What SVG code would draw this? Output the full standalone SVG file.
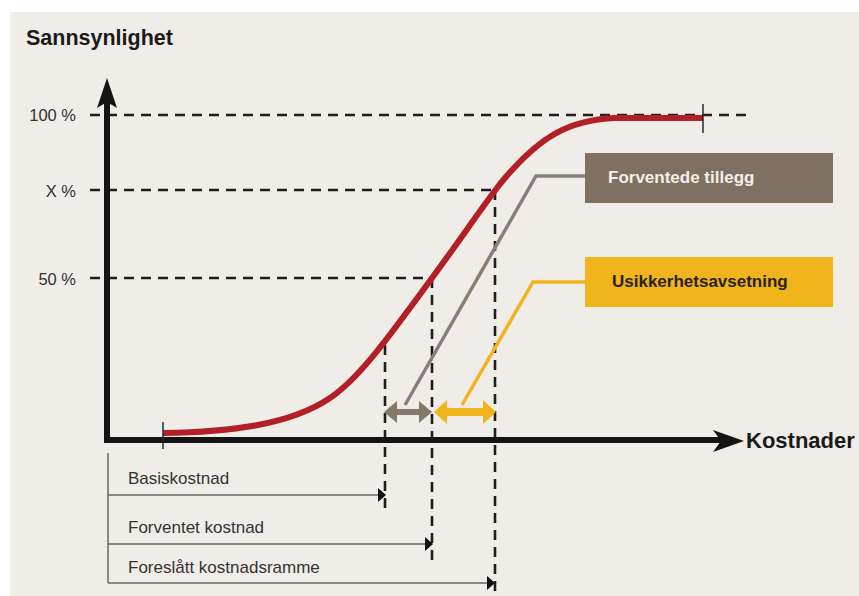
<svg xmlns="http://www.w3.org/2000/svg" width="859" height="596" viewBox="0 0 859 596">
  <style>
    .dash { stroke: #1e1e1e; stroke-width: 2.6; stroke-dasharray: 10 7; fill: none; }
    .tick { stroke: #2a2a2a; stroke-width: 1.5; }
    .axis { stroke: #141414; stroke-width: 6; fill: none; }
    .ylab { font-family: "Liberation Sans", Arial, sans-serif; font-size: 16.5px; fill: #333; }
    .bold { font-family: "Liberation Sans", Arial, sans-serif; font-weight: bold; }
    .reg { font-family: "Liberation Sans", Arial, sans-serif; font-size: 17px; fill: #333; }
    .thin { stroke: #666; stroke-width: 1.5; fill: none; }
  </style>
  <rect x="0" y="0" width="859" height="596" fill="#ffffff"/>
  <rect x="10" y="12" width="849" height="584" fill="#f0ede8"/>

  <g id="guides">
    <line class="dash" x1="90" y1="115" x2="746" y2="115"/>
    <line class="dash" x1="90" y1="190" x2="495" y2="190"/>
    <line class="dash" x1="90" y1="278" x2="432" y2="278"/>
    <line class="dash" x1="385" y1="345" x2="385" y2="508"/>
    <line class="dash" x1="432" y1="278" x2="432" y2="560"/>
    <line class="dash" x1="495" y1="190" x2="495" y2="596"/>
  </g>

  <g id="axes">
    <line class="axis" x1="107" y1="443" x2="107" y2="100"/>
    <polygon points="107,78 117,108 107,102 97,108" fill="#141414"/>
    <line class="axis" x1="104" y1="440" x2="722" y2="440"/>
    <polygon points="744,441 713,430 721,441 713,452" fill="#141414"/>
    <text class="bold" x="26" y="45" font-size="21.5" fill="#1a1a1a">Sannsynlighet</text>
    <text class="bold" x="746" y="448" font-size="22" fill="#1a1a1a">Kostnader</text>
    <text class="ylab" x="76" y="121" text-anchor="end">100 %</text>
    <text class="ylab" x="76" y="197" text-anchor="end">X %</text>
    <text class="ylab" x="76" y="285" text-anchor="end">50 %</text>
  </g>

  <g id="curve">
    <path d="M163,433 C230,432 290,425 330,398 C360,378 390,335 432,278 C460,240 480,210 500,184 C540,135 570,120 615,118 L703,118" fill="none" stroke="#b31f26" stroke-width="6"/>
    <line class="tick" x1="163" y1="422" x2="163" y2="449"/>
    <line class="tick" x1="703" y1="104" x2="703" y2="133"/>
  </g>

  <g id="connectors">
    <polyline points="585,176 536,176 405,405" fill="none" stroke="#8a7f72" stroke-width="3.5"/>
    <polyline points="585,282 533,282 462,405" fill="none" stroke="#f0b41c" stroke-width="3.5"/>
    <polygon points="384,412 397,401 397,409 419,409 419,401 432,412 419,423 419,415 397,415 397,423" fill="#857868"/>
    <polygon points="434,412 447,400 447,408 483,408 483,400 496,412 483,424 483,416 447,416 447,424" fill="#f0b41c"/>
  </g>

  <g id="node-forventede">
    <rect x="585" y="153" width="248" height="50" fill="#7f7061"/>
    <text class="bold" x="608" y="183" font-size="17" fill="#f3efe9">Forventede tillegg</text>
  </g>

  <g id="node-usikkerhet">
    <rect x="585" y="257" width="248" height="50" fill="#f0b51c"/>
    <text class="bold" x="612" y="287" font-size="17" fill="#2a2218">Usikkerhetsavsetning</text>
  </g>

  <g id="cost-ranges">
    <line class="thin" x1="108" y1="453" x2="108" y2="583"/>
    <line class="thin" x1="108" y1="495" x2="379" y2="495"/>
    <polygon points="386,495 378,488 378,502" fill="#111"/>
    <text class="reg" x="128" y="484">Basiskostnad</text>
    <line class="thin" x1="108" y1="544" x2="426" y2="544"/>
    <polygon points="433,544 425,537 425,551" fill="#111"/>
    <text class="reg" x="128" y="533">Forventet kostnad</text>
    <line class="thin" x1="108" y1="583" x2="488" y2="583"/>
    <polygon points="495,583 487,576 487,590" fill="#111"/>
    <text class="reg" x="128" y="573">Foreslått kostnadsramme</text>
  </g>
</svg>
